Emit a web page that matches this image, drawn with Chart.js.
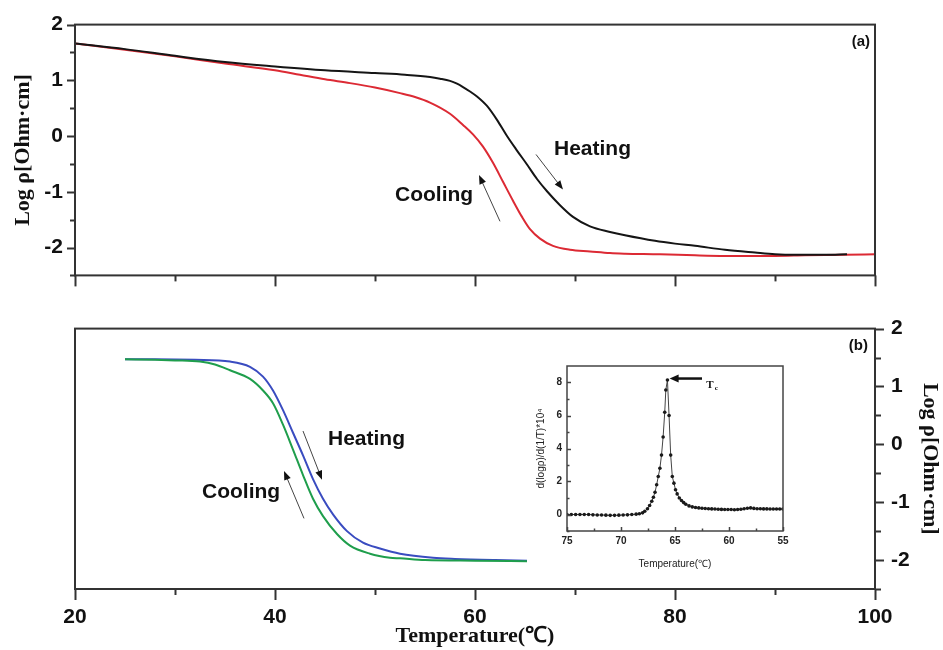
<!DOCTYPE html>
<html>
<head>
<meta charset="utf-8">
<script src="https://cdn.jsdelivr.net/npm/chart.js@4.4.0/dist/chart.umd.min.js"></script>
<style>
  body { margin: 0; background: #fff; }
  #wrap { position: relative; width: 943px; height: 650px; }
  canvas { position: absolute; }
</style>
</head>
<body>
<div id="wrap">
  <canvas id="topChart" width="943" height="300" style="left:0;top:0"></canvas>
  <canvas id="bottomChart" width="943" height="350" style="left:0;top:300px"></canvas>
  <canvas id="insetChart" width="275" height="225" style="left:520px;top:355px"></canvas>
</div>
<script>
// ---- data ----
// panel (a)
const heatA_T = [20, 25, 30, 35, 40, 45, 50, 53, 55.5, 56.5, 57.5, 58.2, 58.8, 59.5, 60.2, 61.2, 62.2, 63.2, 64.2, 65.2, 66.2, 67.2, 68.5, 69.8, 71.5, 73.5, 75, 78, 80, 82, 85, 88, 90, 92, 95, 97.2];
const heatA_R = [1.66, 1.56, 1.44, 1.33, 1.25, 1.18, 1.13, 1.10, 1.06, 1.03, 0.99, 0.94, 0.88, 0.80, 0.71, 0.54, 0.29, 0.00, -0.26, -0.51, -0.77, -0.99, -1.24, -1.45, -1.62, -1.72, -1.78, -1.88, -1.93, -1.97, -2.04, -2.09, -2.12, -2.13, -2.13, -2.12];
const coolA_T = [20, 25, 30, 35, 40, 42.5, 45, 47.5, 50, 52.5, 54, 55.5, 57.5, 58.8, 59.8, 60.8, 61.8, 62.8, 63.8, 64.7, 65.5, 66.5, 67.8, 69.5, 71.5, 73.5, 75, 78.5, 82, 85, 90, 93, 97, 100];
const coolA_R = [1.66, 1.55, 1.43, 1.30, 1.18, 1.10, 1.02, 0.95, 0.87, 0.77, 0.70, 0.60, 0.40, 0.20, 0.03, -0.19, -0.48, -0.82, -1.16, -1.45, -1.67, -1.84, -1.97, -2.04, -2.07, -2.10, -2.11, -2.12, -2.14, -2.15, -2.15, -2.14, -2.13, -2.12];
// panel (b)
const heatB_T = [25, 28, 32, 35.5, 37.5, 38.8, 39.8, 40.8, 41.8, 42.8, 43.8, 44.8, 45.8, 47.2, 48.8, 50.5, 52.5, 55.8, 58, 62, 65.2];
const heatB_R = [1.47, 1.47, 1.46, 1.43, 1.34, 1.17, 0.93, 0.59, 0.20, -0.19, -0.60, -0.94, -1.21, -1.50, -1.70, -1.80, -1.89, -1.96, -1.98, -2.00, -2.01];
const coolB_T = [25, 28, 30, 32.5, 34, 35.5, 37.5, 38.8, 39.8, 40.8, 41.8, 42.8, 43.8, 44.8, 46.2, 47.5, 49.5, 51.5, 52.5, 55, 60, 65.2];
const coolB_R = [1.47, 1.46, 1.45, 1.43, 1.38, 1.28, 1.13, 0.93, 0.71, 0.34, -0.09, -0.53, -0.94, -1.24, -1.55, -1.75, -1.89, -1.96, -1.97, -2.00, -2.01, -2.02];
// inset: derivative vs temperature
const insetT = [75, 74.6, 74.2, 73.8, 73.4, 73, 72.6, 72.2, 71.8, 71.4, 71, 70.6, 70.2, 69.8, 69.4, 69, 68.6, 68.3, 68, 67.8, 67.55, 67.35, 67.15, 67, 66.85, 66.7, 66.55, 66.4, 66.25, 66.1, 65.95, 65.85, 65.7, 65.55, 65.4, 65.25, 65.1, 64.95, 64.8, 64.6, 64.4, 64.2, 64, 63.7, 63.4, 63.1, 62.8, 62.5, 62.2, 61.9, 61.6, 61.3, 61, 60.7, 60.4, 60.1, 59.8, 59.5, 59.2, 58.9, 58.6, 58.3, 58, 57.7, 57.4, 57.1, 56.8, 56.5, 56.2, 55.9, 55.6, 55.3, 55];
const insetD = [0, 0, 0, 0, 0, 0, -0.02, -0.03, -0.03, -0.04, -0.05, -0.05, -0.04, -0.03, -0.02, 0, 0.02, 0.05, 0.1, 0.2, 0.35, 0.55, 0.8, 1.05, 1.35, 1.8, 2.3, 2.8, 3.6, 4.7, 6.2, 7.55, 8.15, 6.0, 3.6, 2.3, 1.9, 1.5, 1.25, 1.0, 0.85, 0.72, 0.62, 0.52, 0.46, 0.42, 0.4, 0.38, 0.36, 0.35, 0.34, 0.33, 0.32, 0.31, 0.3, 0.3, 0.3, 0.29, 0.3, 0.32, 0.35, 0.38, 0.4, 0.37, 0.35, 0.35, 0.34, 0.34, 0.33, 0.33, 0.33, 0.33, 0.33];

// ticks
const tempTicks = [20, 40, 60, 80, 100];
const tempMinor = [30, 50, 70, 90];
const rhoTicks = [-2, -1, 0, 1, 2];
const rhoMinor = [-2.5, -1.5, -0.5, 0.5, 1.5];
const insetTTicks = [55, 60, 65, 70, 75];
const insetTMinor = [57.5, 62.5, 67.5, 72.5];
const insetDTicks = [0, 2, 4, 6, 8];
const insetDMinor = [-1, 1, 3, 5, 7];

function pts(xs, ys) { return xs.map((x, i) => ({x: x, y: ys[i]})); }

const tickFont = {family: 'Liberation Sans', size: 21, weight: 'bold'};
const titleFont = {family: 'Liberation Serif', size: 22, weight: 'bold'};

// frame + tick marks drawn against the scales
const framePlugin = {
  id: 'frame',
  afterDatasetsDraw(chart, args, opts) {
    const {ctx, chartArea: a, scales} = chart;
    ctx.save();
    ctx.strokeStyle = opts.color;
    ctx.lineWidth = opts.width;
    ctx.strokeRect(a.left, a.top, a.right - a.left, a.bottom - a.top);
    (opts.marks || []).forEach(m => {
      const s = scales[m.axis];
      m.values.forEach(v => {
        const p = Math.round(s.getPixelForValue(v)) + 0.5;
        ctx.beginPath();
        if (m.edge === 'bottom') { ctx.moveTo(p, a.bottom); ctx.lineTo(p, a.bottom + m.len); }
        if (m.edge === 'left') { ctx.moveTo(a.left, p); ctx.lineTo(a.left - m.len, p); }
        if (m.edge === 'right') { ctx.moveTo(a.right, p); ctx.lineTo(a.right + m.len, p); }
        ctx.stroke();
      });
    });
    ctx.restore();
  }
};

// text labels and arrows placed in data coordinates
const notesPlugin = {
  id: 'notes',
  afterDatasetsDraw(chart, args, opts) {
    const {ctx, scales} = chart;
    const sx = scales.x, sy = scales.y;
    ctx.save();
    (opts.arrows || []).forEach(ar => {
      const x1 = sx.getPixelForValue(ar[0]), y1 = sy.getPixelForValue(ar[1]);
      const x2 = sx.getPixelForValue(ar[2]), y2 = sy.getPixelForValue(ar[3]);
      const ang = Math.atan2(y2 - y1, x2 - x1);
      const hl = ar[4] || 9, hw = ar[5] || 3.5;
      ctx.strokeStyle = opts.arrowColor || '#444';
      ctx.lineWidth = opts.arrowWidth || 1;
      ctx.beginPath();
      ctx.moveTo(x1, y1);
      ctx.lineTo(x2 - Math.cos(ang) * hl * 0.6, y2 - Math.sin(ang) * hl * 0.6);
      ctx.stroke();
      ctx.fillStyle = '#111';
      ctx.beginPath();
      ctx.moveTo(x2, y2);
      ctx.lineTo(x2 - Math.cos(ang) * hl - Math.sin(ang) * hw, y2 - Math.sin(ang) * hl + Math.cos(ang) * hw);
      ctx.lineTo(x2 - Math.cos(ang) * hl + Math.sin(ang) * hw, y2 - Math.sin(ang) * hl - Math.cos(ang) * hw);
      ctx.closePath();
      ctx.fill();
    });
    (opts.texts || []).forEach(t => {
      ctx.font = t.font;
      ctx.fillStyle = '#111';
      ctx.textAlign = t.align || 'left';
      ctx.textBaseline = 'alphabetic';
      const x = sx.getPixelForValue(t.x), y = sy.getPixelForValue(t.y);
      ctx.fillText(t.text, x, y);
      if (t.sub) {
        const w = ctx.measureText(t.text).width;
        ctx.font = t.subFont;
        ctx.fillText(t.sub, x + w + 1, y + 2);
      }
    });
    ctx.restore();
  }
};

// ---- panel (a) ----
new Chart(document.getElementById('topChart'), {
  type: 'line',
  data: {
    datasets: [
      {data: pts(heatA_T, heatA_R), borderColor: '#151515', borderWidth: 2},
      {data: pts(coolA_T, coolA_R), borderColor: '#dc2a34', borderWidth: 2}
    ]
  },
  options: {
    responsive: false,
    animation: false,
    layout: {padding: {top: 24, right: 68, left: 0, bottom: 0}},
    elements: {point: {radius: 0}, line: {cubicInterpolationMode: 'monotone'}},
    plugins: {
      legend: {display: false},
      tooltip: {enabled: false},
      frame: {color: '#333', width: 2, marks: [
        {axis: 'x', edge: 'bottom', values: tempTicks, len: 11},
        {axis: 'x', edge: 'bottom', values: tempMinor, len: 6},
        {axis: 'y', edge: 'left', values: rhoTicks, len: 8},
        {axis: 'y', edge: 'left', values: rhoMinor, len: 5}
      ]},
      notes: {
        texts: [
          {text: 'Heating', x: 67.9, y: -0.34, font: 'bold 21px "Liberation Sans"'},
          {text: 'Cooling', x: 52.0, y: -1.17, font: 'bold 21px "Liberation Sans"'},
          {text: '(a)', x: 99.5, y: 1.61, font: 'bold 15px "Liberation Sans"', align: 'right'}
        ],
        arrows: [
          [66.1, -0.33, 68.8, -0.96],
          [62.5, -1.53, 60.4, -0.70]
        ]
      }
    },
    scales: {
      x: {
        type: 'linear', min: 20, max: 100,
        afterFit(s) { s.height = 10; },
        afterBuildTicks(s) { s.ticks = tempTicks.map(v => ({value: v})); },
        ticks: {display: false},
        grid: {display: false, drawTicks: false},
        border: {display: false}
      },
      y: {
        min: -2.5, max: 2,
        afterFit(s) { s.width = 75; },
        afterBuildTicks(s) { s.ticks = rhoTicks.map(v => ({value: v})); },
        ticks: {font: tickFont, color: '#111', padding: 12, callback: v => String(v)},
        grid: {display: false, drawTicks: false},
        border: {display: false},
        title: {display: true, text: 'Log ρ[Ohm·cm]', font: titleFont, color: '#111', padding: {top: 10, bottom: 0}}
      }
    }
  },
  plugins: [framePlugin, notesPlugin]
});

// ---- panel (b) ----
new Chart(document.getElementById('bottomChart'), {
  type: 'line',
  data: {
    datasets: [
      {data: pts(coolB_T, coolB_R), borderColor: '#1f9e4c', borderWidth: 2},
      {data: pts(heatB_T, heatB_R), borderColor: '#3a4cc0', borderWidth: 2}
    ]
  },
  options: {
    responsive: false,
    animation: false,
    layout: {padding: {top: 24, right: 0, left: 75, bottom: 0}},
    elements: {point: {radius: 0}, line: {cubicInterpolationMode: 'monotone'}},
    plugins: {
      legend: {display: false},
      tooltip: {enabled: false},
      frame: {color: '#333', width: 2, marks: [
        {axis: 'x', edge: 'bottom', values: tempTicks, len: 11},
        {axis: 'x', edge: 'bottom', values: tempMinor, len: 6},
        {axis: 'y', edge: 'right', values: rhoTicks, len: 9},
        {axis: 'y', edge: 'right', values: rhoMinor, len: 6}
      ]},
      notes: {
        texts: [
          {text: 'Heating', x: 45.3, y: -0.02, font: 'bold 21px "Liberation Sans"'},
          {text: 'Cooling', x: 32.7, y: -0.92, font: 'bold 21px "Liberation Sans"'},
          {text: '(b)', x: 99.3, y: 1.63, font: 'bold 15px "Liberation Sans"', align: 'right'}
        ],
        arrows: [
          [42.8, 0.23, 44.7, -0.61],
          [42.9, -1.28, 40.9, -0.46]
        ]
      }
    },
    scales: {
      x: {
        type: 'linear', min: 20, max: 100,
        afterFit(s) { s.height = 61; },
        afterBuildTicks(s) { s.ticks = tempTicks.map(v => ({value: v})); },
        ticks: {font: tickFont, color: '#111', padding: 16, maxRotation: 0, callback: v => String(v)},
        grid: {display: false, drawTicks: false},
        border: {display: false},
        title: {display: true, text: 'Temperature(℃)', font: {family: 'Liberation Serif', size: 22, weight: 'bold'}, color: '#111', padding: {top: 0, bottom: 0}}
      },
      y: {
        position: 'right',
        min: -2.5, max: 2,
        afterFit(s) { s.width = 68; },
        afterBuildTicks(s) { s.ticks = rhoTicks.map(v => ({value: v})); },
        ticks: {font: tickFont, color: '#111', padding: 16, callback: v => String(v)},
        grid: {display: false, drawTicks: false},
        border: {display: false},
        title: {display: true, text: 'Log ρ[Ohm·cm]', font: titleFont, color: '#111', padding: {top: 0, bottom: 0}}
      }
    }
  },
  plugins: [framePlugin, notesPlugin]
});

// ---- inset ----
new Chart(document.getElementById('insetChart'), {
  type: 'line',
  data: {
    datasets: [
      {data: pts(insetT, insetD), borderColor: '#444', borderWidth: 1, pointRadius: 1.8,
       pointBackgroundColor: '#1a1a1a', pointBorderWidth: 0, tension: 0}
    ]
  },
  options: {
    responsive: false,
    animation: false,
    layout: {padding: {top: 9, right: 12, left: 0, bottom: 0}},
    plugins: {
      legend: {display: false},
      tooltip: {enabled: false},
      frame: {color: '#444', width: 1.5, marks: [
        {axis: 'x', edge: 'bottom', values: insetTTicks, len: -4},
        {axis: 'x', edge: 'bottom', values: insetTMinor, len: -2.5},
        {axis: 'y', edge: 'left', values: insetDTicks, len: -4},
        {axis: 'y', edge: 'left', values: insetDMinor, len: -2.5}
      ]},
      notes: {
        arrowColor: '#111', arrowWidth: 2.5,
        texts: [
          {text: 'T', sub: 'c', x: 62.1, y: 7.65, font: 'bold 11px "Liberation Serif"', subFont: 'bold 7px "Liberation Serif"'}
        ],
        arrows: [
          [62.5, 8.24, 65.5, 8.24, 9, 4]
        ]
      }
    },
    scales: {
      x: {
        type: 'linear', min: 55, max: 75, reverse: true,
        afterFit(s) { s.height = 49; },
        afterBuildTicks(s) { s.ticks = insetTTicks.map(v => ({value: v})); },
        ticks: {font: {family: 'Liberation Sans', size: 10, weight: 'bold'}, color: '#222', padding: 4, maxRotation: 0, callback: v => String(v)},
        grid: {display: false, drawTicks: false},
        border: {display: false},
        title: {display: true, text: 'Temperature(℃)', font: {family: 'Liberation Sans', size: 10}, color: '#222', padding: {top: 0, bottom: 10}}
      },
      y: {
        min: -1, max: 9,
        afterFit(s) { s.width = 47; },
        afterBuildTicks(s) { s.ticks = insetDTicks.map(v => ({value: v})); },
        ticks: {font: {family: 'Liberation Sans', size: 10, weight: 'bold'}, color: '#222', padding: 5, callback: v => String(v)},
        grid: {display: false, drawTicks: false},
        border: {display: false},
        title: {display: true, text: 'd(logρ)/d(1/T)*10⁴', font: {family: 'Liberation Sans', size: 10}, color: '#222', padding: {top: 15, bottom: 0}}
      }
    }
  },
  plugins: [framePlugin, notesPlugin]
});
</script>
</body>
</html>
